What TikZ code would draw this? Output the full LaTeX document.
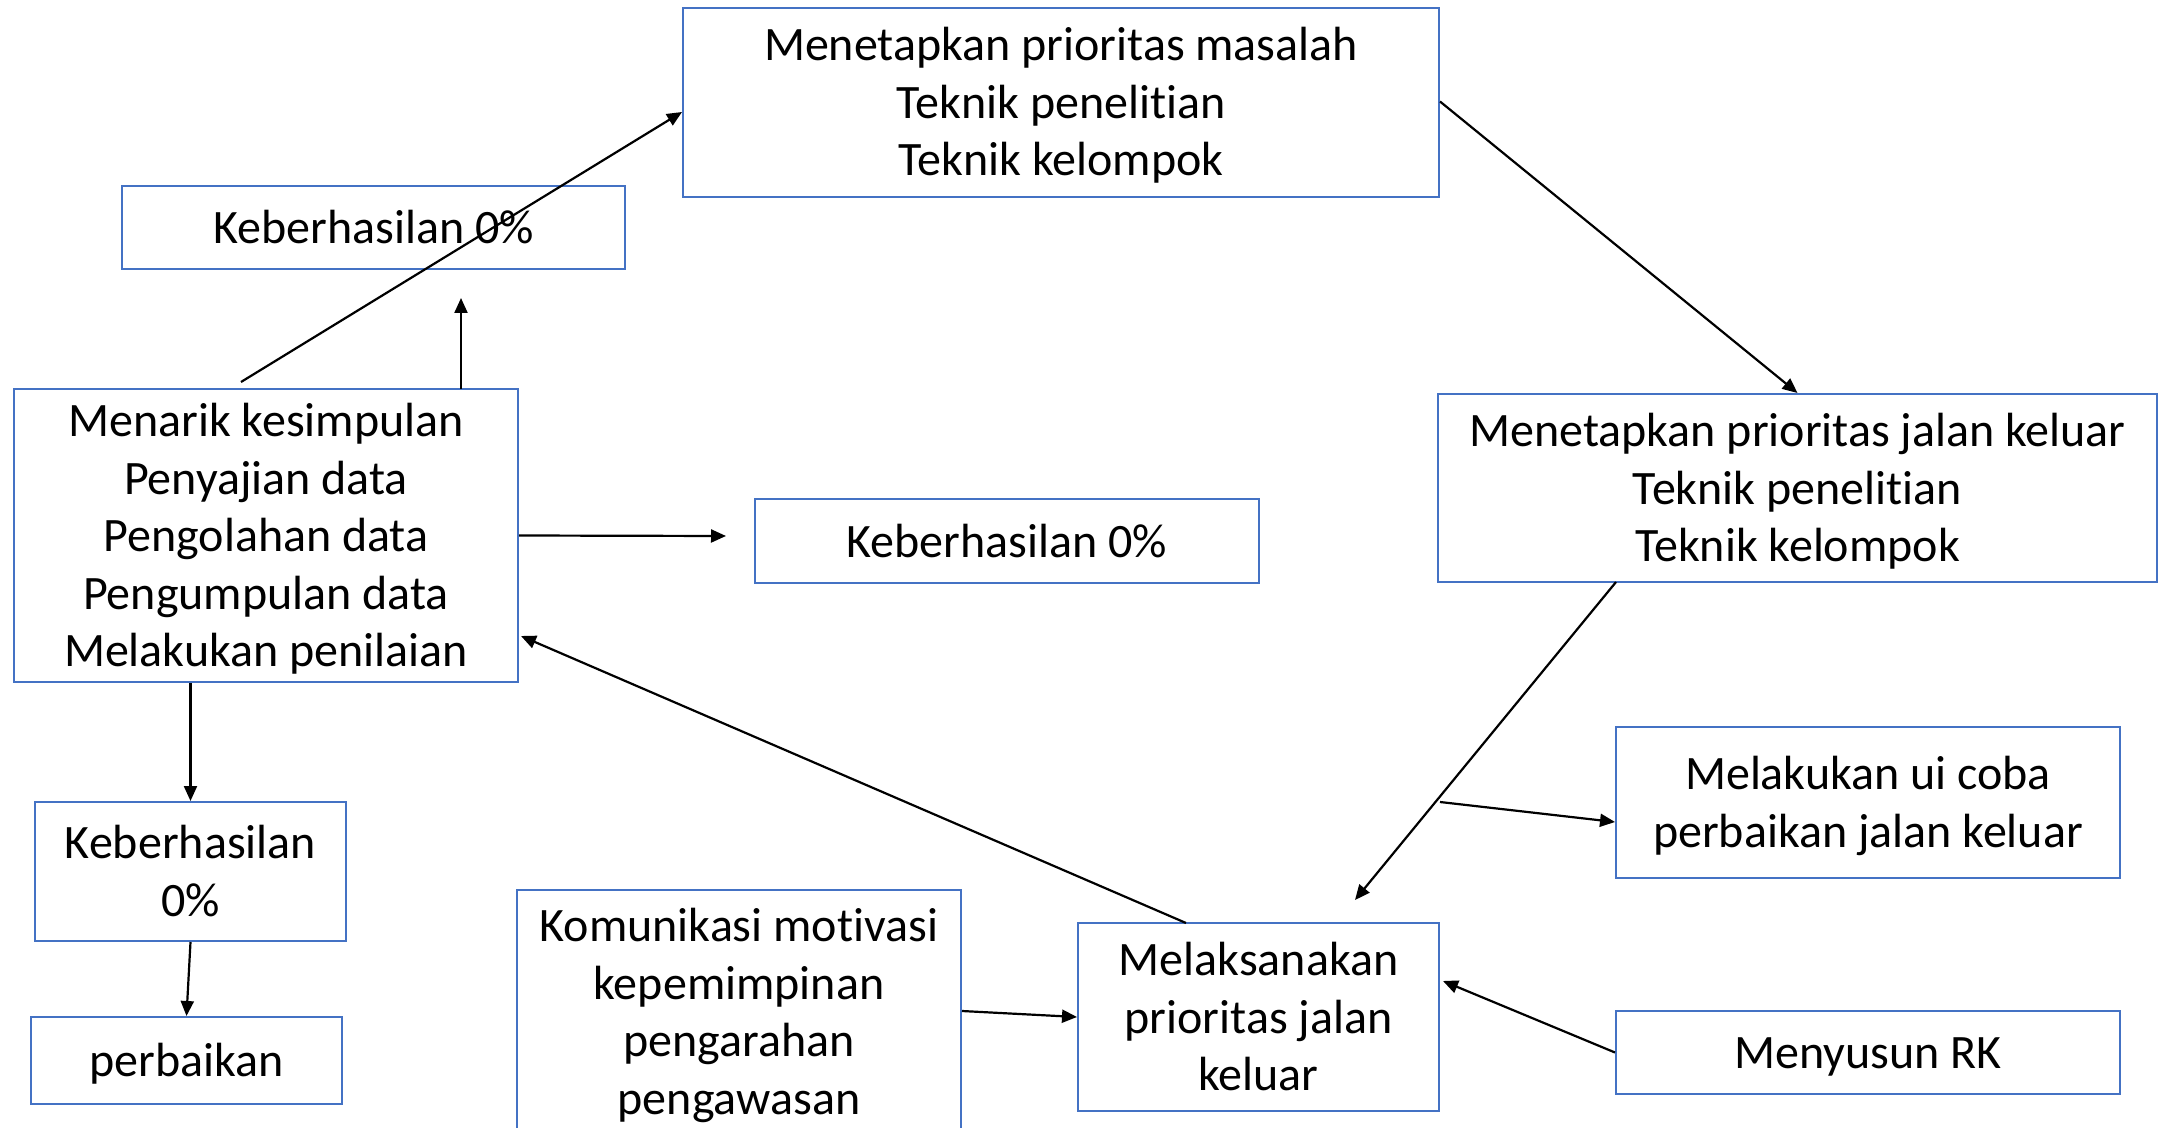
\documentclass[tikz,border=0pt]{standalone}
\usepackage{fontspec}
\setmainfont[Ligatures=NoCommon]{Carlito}
\usetikzlibrary{arrows.meta,calc}
\definecolor{boxblue}{HTML}{4472C4}
\newcommand{\sr}{\rule[-6pt]{0pt}{28pt}}
\begin{document}
\begin{tikzpicture}[x=0.5pt,y=-0.5pt,
  box/.style={draw=boxblue,line width=1pt,inner sep=0pt,align=center,
    font=\fontsize{24}{28.75}\selectfont},
  conn/.style={line width=1.1pt,-{Triangle[length=7.5pt,width=6.5pt]}}]
\useasboundingbox (0,0) rectangle (2162,1128);
% boxes
\node[box,minimum width=378pt,minimum height=94.5pt] (top) at (1061,102.5)
  {\sr Menetapkan prioritas masalah\\\sr Teknik penelitian\\\sr Teknik kelompok};
\node[box,minimum width=251.5pt,minimum height=41.5pt] (kb1) at (373.5,227.5)
  {\sr Keberhasilan 0\%};
\node[box,minimum width=252pt,minimum height=146.5pt] (men) at (266,535.5)
  {\sr Menarik kesimpulan\\\sr Penyajian data\\\sr Pengolahan data\\\sr Pengumpulan data\\\sr Melakukan penilaian};
\node[box,minimum width=252pt,minimum height=42pt] (kb2) at (1007,541)
  {\sr Keberhasilan 0\%};
\node[box,minimum width=359.5pt,minimum height=94pt] (jk) at (1797.5,488)
  {\sr Menetapkan prioritas jalan keluar\\\sr Teknik penelitian\\\sr Teknik kelompok};
\node[box,minimum width=252pt,minimum height=75.5pt] (uic) at (1868,802.5)
  {\sr Melakukan ui coba\\\sr perbaikan jalan keluar};
\node[box,minimum width=155.5pt,minimum height=69.5pt] (kb3) at (190.5,871.5)
  {\sr Keberhasilan\\\sr 0\%};
\node[box,minimum width=155.5pt,minimum height=43.5pt] (perb) at (186.5,1060.5)
  {\sr perbaikan};
\node[box,minimum width=222pt,minimum height=122pt] (kom) at (739,1012)
  {\sr Komunikasi motivasi\\\sr kepemimpinan\\\sr pengarahan\\\sr pengawasan};
\node[box,minimum width=180.5pt,minimum height=94pt] (mel) at (1258.5,1017)
  {\sr Melaksanakan\\\sr prioritas jalan\\\sr keluar};
\node[box,minimum width=252pt,minimum height=41.5pt] (rk) at (1868,1052.5)
  {\sr Menyusun RK};
% free ends / attachment points
\coordinate (s1) at (241,382);
\coordinate (s2) at (461,389);
\coordinate (e2) at (461,298);
\coordinate (e3) at (726,536);
\coordinate (s7) at (1616,582);
\coordinate (e7) at (1355,900);
\coordinate (s8) at (1440,802);
\coordinate (s9) at (1186,923);
\coordinate (e9) at (521,636);
\coordinate (e11) at (1443,981);
% connectors
\draw[conn] (s1) -- ($(top.north west)+(0,105)$);
\draw[conn] (s2) -- (e2);
\draw[conn] (men.east) -- (e3);
\draw[conn] (men.south -| kb3.north) -- (kb3.north);
\draw[conn] (kb3.south) -- (perb.north);
\draw[conn] ($(top.east)+(0,-1)$) -- (jk.north);
\draw[conn] (s7) -- (e7);
\draw[conn] (s8) -- ($(uic.west)+(0,19.5)$);
\draw[conn] (s9) -- (e9);
\draw[conn] ($(kom.east)+(0,-1)$) -- (mel.west);
\draw[conn] (rk.west) -- (e11);
\end{tikzpicture}
\end{document}
